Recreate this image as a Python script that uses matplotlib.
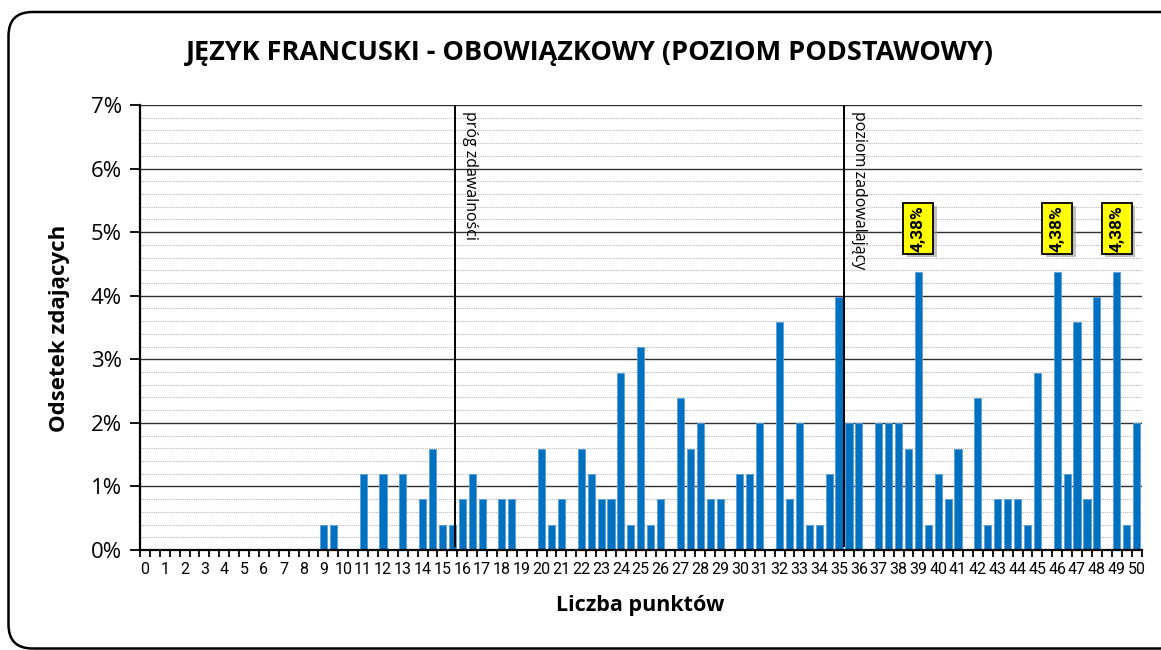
import matplotlib
matplotlib.use("Agg")
import matplotlib.pyplot as plt
import matplotlib.patheffects as pe
import numpy as np
from matplotlib.patches import FancyBboxPatch, Rectangle
from matplotlib.transforms import IdentityTransform
from matplotlib.ticker import MultipleLocator, FixedLocator, FuncFormatter

# points 0 .. 50 in half-point steps
points = np.arange(0, 50.5, 0.5)
percent = [
    0, 0, 0, 0, 0, 0, 0, 0, 0, 0,            # 0 - 4.5
    0, 0, 0, 0, 0, 0, 0, 0,                  # 5 - 8.5
    0.40, 0.40, 0, 0, 1.20, 0, 1.20, 0,      # 9 - 12.5
    1.20, 0, 0.80, 1.59, 0.40, 0.40,         # 13 - 15.5
    0.80, 1.20, 0.80, 0, 0.80, 0.80, 0, 0,   # 16 - 19.5
    1.59, 0.40, 0.80, 0, 1.59, 1.20,         # 20 - 22.5
    0.80, 0.80, 2.79, 0.40, 3.19, 0.40,      # 23 - 25.5
    0.80, 0, 2.39, 1.59, 1.99, 0.80,         # 26 - 28.5
    0.80, 0, 1.20, 1.20, 1.99, 0,            # 29 - 31.5
    3.59, 0.80, 1.99, 0.40, 0.40, 1.20,      # 32 - 34.5
    3.98, 1.99, 1.99, 0, 1.99, 1.99,         # 35 - 37.5
    1.99, 1.59, 4.38, 0.40, 1.20, 0.80,      # 38 - 40.5
    1.59, 0, 2.39, 0.40, 0.80, 0.80,         # 41 - 43.5
    0.80, 0.40, 2.79, 0, 4.38, 1.20,         # 44 - 46.5
    3.59, 0.80, 3.98, 0, 4.38, 0.40,         # 47 - 49.5
    1.99,                                    # 50
]
thresholds = [15.63, 35.25]
threshold_labels = ["próg zdawalności", "poziom zadowalający"]

title = "JĘZYK FRANCUSKI - OBOWIĄZKOWY (POZIOM PODSTAWOWY)"
xlabel = "Liczba punktów"
ylabel = "Odsetek zdających"

plt.rcParams['font.family'] = ['Open Sans', 'DejaVu Sans']

fig = plt.figure(figsize=(11.61, 6.5), dpi=100)
ax = fig.add_axes([140 / 1161, 1 - 550 / 650, 1001.5 / 1161, 445 / 650])

ax.bar(points, percent, width=0.36, color="#0070C0", edgecolor="#5A9FD8",
       linewidth=0.6, zorder=3)

ax.set_xlim(-0.25, 50.25)
ax.set_ylim(0, 7)

# grid
ax.yaxis.set_major_locator(MultipleLocator(1))
ax.yaxis.set_minor_locator(MultipleLocator(0.2))
ax.grid(which="major", axis="y", color="#303030", linewidth=1.0, zorder=1)
ax.grid(which="minor", axis="y", color="#B8B8B8", linewidth=0.8,
        linestyle=(0, (1, 1)), zorder=1)
ax.yaxis.set_major_formatter(FuncFormatter(lambda v, p: f"{int(round(v))}%"))
ax.tick_params(axis="y", which="major", length=7, width=1.3, labelsize=16,
               direction="out", pad=6)
ax.tick_params(axis="y", which="minor", length=0)

# x axis: ticks at category boundaries, labels at whole points
ax.xaxis.set_major_locator(FixedLocator(np.arange(0, 51)))
ax.xaxis.set_minor_locator(FixedLocator(np.arange(-0.25, 50.3, 0.5)))
ax.tick_params(axis="x", which="major", length=0, pad=9, labelsize=11.5,
               labelfontfamily="Roboto")
ax.tick_params(axis="x", which="minor", length=5, width=1.3, direction="out")

for s in ["top", "right"]:
    ax.spines[s].set_visible(False)
for s in ["left", "bottom"]:
    ax.spines[s].set_linewidth(1.6)
    ax.spines[s].set_color("black")
    ax.spines[s].set_zorder(4)

# threshold lines
for x, lab in zip(thresholds, threshold_labels):
    ax.plot([x, x], [0.07, 7], color="black", linewidth=1.4, zorder=4)
    ax.text(x + 0.35, 6.9, lab, rotation=270, ha="left", va="top",
            fontsize=11.5, zorder=5)

# labels over the highest bars
top = max(percent)
for x, v in zip(points, percent):
    if v == top:
        txt = f"{v:.2f}%".replace(".", ",")
        box = Rectangle((x - 0.76, v + 0.28), 1.52, 0.80, facecolor="#FFFF00",
                        edgecolor="black", linewidth=1.3, zorder=6)
        box.set_path_effects([pe.SimplePatchShadow(offset=(2.5, -2.5),
                                                   shadow_rgbFace="#999999",
                                                   alpha=0.6), pe.Normal()])
        ax.add_patch(box)
        ax.text(x, v + 0.68, txt, rotation=90, ha="center", va="center",
                fontsize=12.5, fontfamily=["Roboto", "DejaVu Sans"],
                fontweight="bold", zorder=7)

fig.text(590 / 1161, 1 - 53 / 650, title, ha="center", va="center",
         fontsize=19.5, fontweight="bold")
fig.text(640 / 1161, 1 - 605 / 650, xlabel, ha="center", va="center",
         fontsize=15.5, fontweight="bold")
fig.text(60 / 1161, 1 - 328 / 650, ylabel, ha="center", va="center",
         fontsize=16, fontweight="bold", rotation=90)

# rounded outer frame
frame = FancyBboxPatch((8.5, 1.5), 1200, 636.5,
                       boxstyle="round,pad=0,rounding_size=24",
                       transform=IdentityTransform(), facecolor="none",
                       edgecolor="black", linewidth=1.8)
fig.patches.append(frame)

fig.savefig("out.png", dpi=100)
